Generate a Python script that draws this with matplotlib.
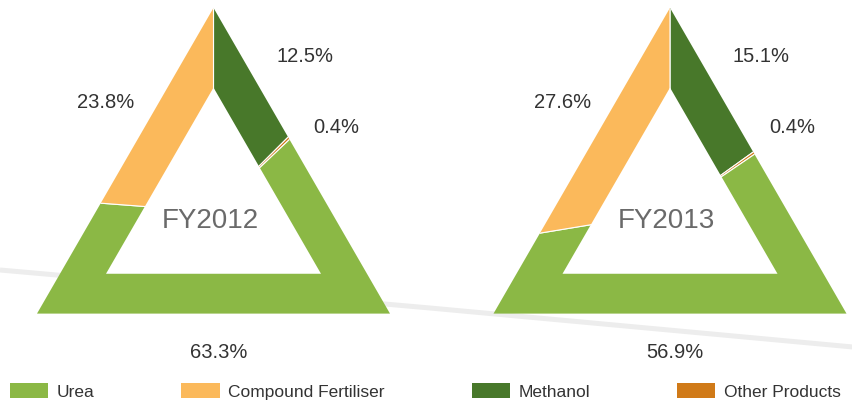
import numpy as np
import matplotlib.pyplot as plt
from matplotlib.patches import Polygon, Patch

plt.rcParams['font.family'] = ['Liberation Sans', 'DejaVu Sans']

# data
years = ['FY2012', 'FY2013']
products = ['Urea', 'Compound Fertiliser', 'Methanol', 'Other Products']
urea = [63.3, 56.9]
compound = [23.8, 27.6]
methanol = [12.5, 15.1]
other = [0.4, 0.4]

col = {'Urea': '#8bb845', 'Compound Fertiliser': '#fbb95b',
       'Methanol': '#48782a', 'Other Products': '#d07a18'}

W, H = 853, 406
# triangle layout (pixel coords, y up)
centers = [(213.5, 193.3), (670.0, 193.3)]
outer_side = 353
inner_side = 215

# label positions (x, baseline y from top) per triangle
lab_pos = [
    {'Methanol': (305, 62), 'Other Products': (336, 133), 'Urea': (219, 358),
     'Compound Fertiliser': (106, 108), 'year': (210, 228)},
    {'Methanol': (761, 62), 'Other Products': (792, 133), 'Urea': (675, 358),
     'Compound Fertiliser': (563, 108), 'year': (666, 228)},
]


def tri(cx, cy, side):
    r = side / np.sqrt(3)
    ang = np.radians([90, 210, 330])
    return np.column_stack([cx + r*np.cos(ang), cy + r*np.sin(ang)])


fig = plt.figure(figsize=(W/100, H/100), dpi=100)
ax = fig.add_axes([0, 0, 1, 1])

# faint grey background stroke
ax.plot([0, 430, W], [H-271, H-309, H-348], color='#ededed', lw=3.6,
        solid_capstyle='butt', zorder=0)

for i in range(2):
    cx, cy = centers[i]
    order = ['Methanol', 'Other Products', 'Urea', 'Compound Fertiliser']
    vals = [methanol[i], other[i], urea[i], compound[i]]
    clip = Polygon(tri(cx, cy, outer_side), closed=True, facecolor='none',
                   edgecolor='none')
    ax.add_patch(clip)
    wedges, _ = ax.pie(vals, colors=[col[k] for k in order], startangle=90,
                       counterclock=False, center=(cx, cy), radius=235,
                       wedgeprops=dict(edgecolor='white', linewidth=0.8))
    for w in wedges:
        w.set_clip_on(True)   # pie turns clipping off by default
        w.set_clip_path(clip)
        w.set_zorder(2)
    ax.add_patch(Polygon(tri(cx, cy, inner_side), closed=True,
                         facecolor='white', edgecolor='none', zorder=3))

    vals_d = {'Urea': urea[i], 'Compound Fertiliser': compound[i],
              'Methanol': methanol[i], 'Other Products': other[i]}
    for k, v in vals_d.items():
        x, y = lab_pos[i][k]
        ax.text(x, H - y, f'{v:.1f}%', ha='center', va='baseline',
                fontsize=14.5, color='#333333', zorder=5)
    x, y = lab_pos[i]['year']
    ax.text(x, H - y, years[i], ha='center', va='baseline', fontsize=20,
            color='#6a6a6a', zorder=5)

ax.set_xlim(0, W)
ax.set_ylim(0, H)
ax.set_aspect('auto')
ax.axis('off')

handles = [Patch(facecolor=col[p], edgecolor='none', label=p) for p in products]
fig.legend(handles=handles, loc='center left', bbox_to_anchor=(10/W, (H-392)/H),
           ncol=4, frameon=False, fontsize=12.5, handlelength=2.2, handleheight=1.0,
           handletextpad=0.5, columnspacing=5.0, borderpad=0, borderaxespad=0,
           labelcolor='#333333')

fig.savefig('out.png', dpi=100)
